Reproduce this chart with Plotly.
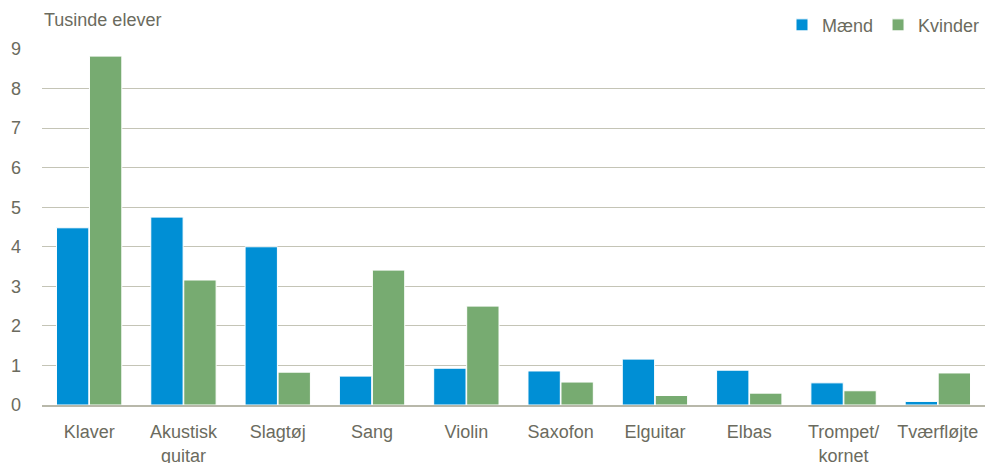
import plotly.graph_objects as go

categories = ["Klaver", "Akustisk<br>guitar", "Slagtøj", "Sang", "Violin", "Saxofon",
              "Elguitar", "Elbas", "Trompet/<br>kornet", "Tværfløjte"]
maend = [4.48, 4.75, 4.00, 0.73, 0.93, 0.86, 1.16, 0.88, 0.56, 0.09]
kvinder = [8.82, 3.16, 0.83, 3.41, 2.50, 0.58, 0.24, 0.30, 0.36, 0.81]
y_ticks = [0, 1, 2, 3, 4, 5, 6, 7, 8, 9]

FONT = "Liberation Sans, Arial, sans-serif"
TXT = "#6b6b5e"

fig = go.Figure()
fig.add_trace(go.Bar(name="Mænd", x=categories, y=maend,
                     marker=dict(color="#008fd5", line=dict(color="white", width=1))))
fig.add_trace(go.Bar(name="Kvinder", x=categories, y=kvinder,
                     marker=dict(color="#77ab71", line=dict(color="white", width=1))))

fig.update_layout(
    width=985, height=463,
    margin=dict(l=42, r=0, t=49, b=58, autoexpand=False),
    paper_bgcolor="white", plot_bgcolor="white",
    barmode="group", bargap=0.3, bargroupgap=0.02,
    font=dict(family=FONT, size=18, color=TXT),
    showlegend=True,
    legend=dict(orientation="h", x=1.0, xanchor="right", y=1.067, yanchor="middle",
                font=dict(size=18, color=TXT), traceorder="normal",
                bgcolor="rgba(0,0,0,0)", itemwidth=30, tracegroupgap=0),
    xaxis=dict(showgrid=False, showline=True, linecolor="#b8b8aa", linewidth=1.5,
               ticks="", tickfont=dict(size=18, color=TXT), ticklabelstandoff=10),
    yaxis=dict(range=[0, 9], tickvals=y_ticks, showgrid=True, gridcolor="#c4c4b6",
               gridwidth=1.2, zeroline=False, showline=False, ticks="",
               tickfont=dict(size=18, color=TXT), ticklabelstandoff=20),
    annotations=[dict(text="Tusinde elever", xref="paper", yref="paper", x=0, y=1.0,
                      yshift=17, xanchor="left", yanchor="bottom", showarrow=False,
                      font=dict(size=18, color=TXT))],
)

fig.write_html("out.html", config={"displayModeBar": False},
               post_script="document.body.style.margin='0';document.body.style.overflow='hidden';")
